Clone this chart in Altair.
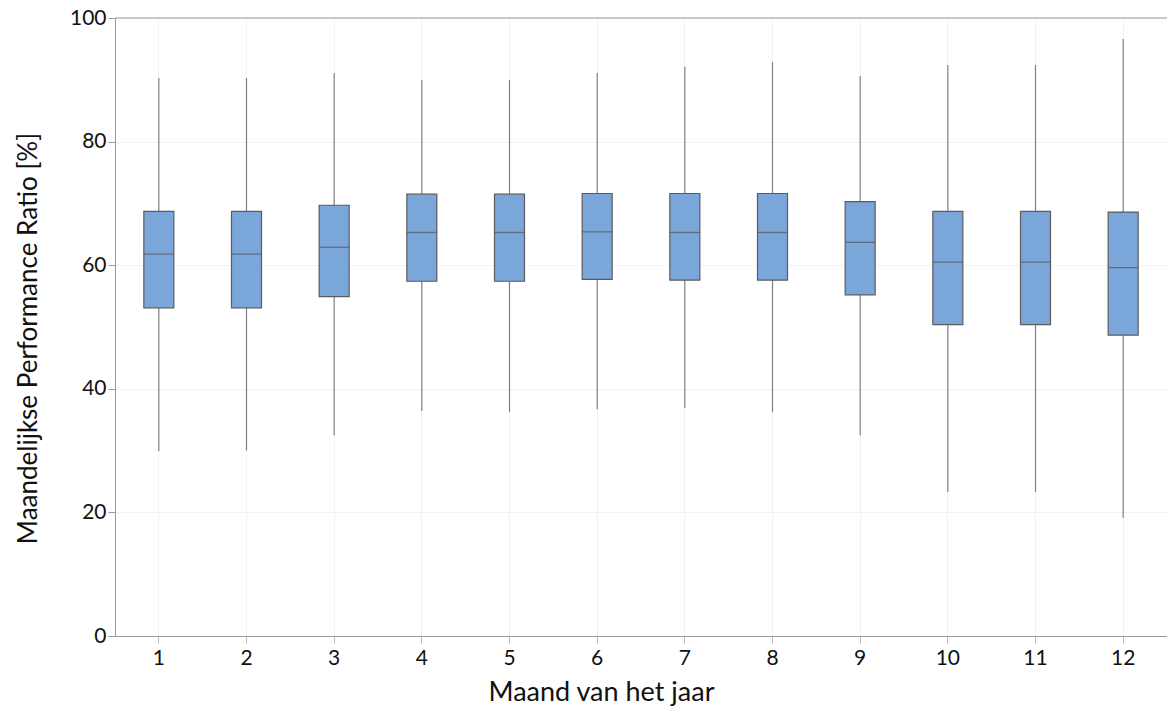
import altair as alt
import pandas as pd

# Monthly performance ratio distribution (percent), one box per month
months = [1, 2, 3, 4, 5, 6, 7, 8, 9, 10, 11, 12]
whisker_low = [29.9, 30.0, 32.5, 36.4, 36.2, 36.7, 36.9, 36.2, 32.5, 23.3, 23.3, 19.1]
q1 = [53.1, 53.1, 54.9, 57.4, 57.4, 57.7, 57.6, 57.6, 55.2, 50.4, 50.4, 48.7]
median = [61.8, 61.8, 62.9, 65.3, 65.3, 65.4, 65.3, 65.3, 63.7, 60.5, 60.5, 59.6]
q3 = [68.7, 68.7, 69.7, 71.5, 71.5, 71.6, 71.6, 71.6, 70.3, 68.7, 68.7, 68.6]
whisker_high = [90.3, 90.3, 91.1, 90.0, 90.0, 91.1, 92.1, 92.9, 90.6, 92.4, 92.4, 96.6]

df = pd.DataFrame({
    "maand": months,
    "lo": whisker_low,
    "q1": q1,
    "med": median,
    "q3": q3,
    "hi": whisker_high,
})

FONT = "Lato"
W, H = 1052, 618

x_enc = alt.X(
    "maand:O",
    title="Maand van het jaar",
    scale=alt.Scale(paddingInner=0.0, paddingOuter=0.0),
    axis=alt.Axis(
        labelAngle=0,
        labelFont=FONT,
        labelFontSize=21,
        labelColor="#111111",
        labelPadding=4,
        titleFont=FONT,
        titleFontSize=27,
        titleFontWeight="normal",
        titleColor="#111111",
        titlePadding=11,
        titleX=486,
        titleAlign="center",
        grid=True,
        gridColor="#f2f2f2",
        domainColor="#999999",
        tickColor="#bbbbbb",
        tickSize=7,
    ),
)

y_scale = alt.Scale(domain=[0, 100], nice=False)
y_axis = alt.Axis(
    values=[0, 20, 40, 60, 80, 100],
    labelFont=FONT,
    labelFontSize=21,
    labelColor="#111111",
    labelPadding=2,
    titleFont=FONT,
    titleFontSize=26,
    titleFontWeight="normal",
    titleColor="#111111",
    titlePadding=28,
    titleY=320,
    titleAlign="center",
    grid=True,
    gridColor="#f2f2f2",
    domainColor="#999999",
    tickColor="#999999",
    tickSize=7,
)

base = alt.Chart(df)

whiskers = base.mark_rule(color="#808080", strokeWidth=1.2).encode(
    x=x_enc,
    y=alt.Y("lo:Q", scale=y_scale, axis=y_axis,
            title="Maandelijkse Performance Ratio [%]"),
    y2="hi:Q",
)

boxes = base.mark_bar(
    size=30, color="#7ba6da", stroke="#5b5b5b", strokeWidth=1.2
).encode(
    x=x_enc,
    y=alt.Y("q1:Q", scale=y_scale),
    y2="q3:Q",
)

medians = base.mark_tick(
    size=30, thickness=1.3, color="#555555"
).encode(
    x=x_enc,
    y=alt.Y("med:Q", scale=y_scale),
)

top_border = alt.Chart(pd.DataFrame({"v": [100]})).mark_rule(
    color="#999999", strokeWidth=1.2
).encode(y=alt.Y("v:Q", scale=y_scale), x=alt.value(0), x2=alt.value(W))

chart = (
    alt.layer(whiskers, boxes, medians, top_border)
    .properties(
        width=W,
        height=H,
        background="white",
        autosize=alt.AutoSizeParams(type="none"),
        padding={"left": 115, "top": 18, "right": 0, "bottom": 75},
    )
    .configure_view(stroke=None)
)

chart.save("out.html", embed_options={"renderer": "svg", "actions": False})
